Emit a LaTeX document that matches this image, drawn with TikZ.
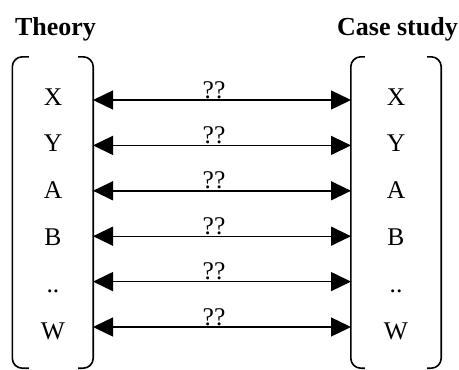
\documentclass[tikz,border=0pt]{standalone}
\usepackage{fontspec}
\setmainfont{Liberation Serif}
\usetikzlibrary{arrows.meta}
\begin{document}
\begin{tikzpicture}[x=1pt,y=-1pt,
  lbl/.style={font=\fontsize{25.5}{30}\selectfont, inner sep=0pt, anchor=base},
  ttl/.style={font=\fontsize{26}{30}\selectfont\bfseries, inner sep=0pt, anchor=base},
  brk/.style={line width=1.6pt, rounded corners=10pt},
  boxn/.style={draw=none, inner sep=0pt, minimum height=311pt},
  arr/.style={line width=1.4pt, {Triangle[length=20pt,width=19pt]}-{Triangle[length=20pt,width=19pt]}},
  ]
\useasboundingbox (0,0) rectangle (459,370);
\node[ttl] (t1) at (55.5,35) {Theory};
\node[ttl] (t2) at (397.5,35) {Case study};
\node[boxn, minimum width=80.5pt] (L) at (52.75,212.5) {};
\node[boxn, minimum width=90pt] (R) at (396,212.5) {};
\draw[brk] ([xshift=16.5pt]L.north west) -- (L.north west) -- (L.south west) -- ([xshift=16.5pt]L.south west);
\draw[brk] ([xshift=-15pt]L.north east) -- (L.north east) -- (L.south east) -- ([xshift=-15pt]L.south east);
\draw[brk] ([xshift=14pt]R.north west) -- (R.north west) -- (R.south west) -- ([xshift=14pt]R.south west);
\draw[brk] ([xshift=-14pt]R.north east) -- (R.north east) -- (R.south east) -- ([xshift=-14pt]R.south east);
\foreach \i/\t in {0/{X},1/{Y},2/{A},3/{B},4/{..},5/{W}}{
  \node[lbl] (l\i) at (53,105+46.8*\i) {\t};
  \node[lbl] (r\i) at (396,105+46.8*\i) {\t};
  \coordinate (al\i) at (93,100+45.4*\i);
  \coordinate (ar\i) at (351,100+45.4*\i);
  \draw[arr] (al\i) -- (ar\i);
  \node[lbl] (q\i) at (214,98+45.4*\i) {??};
}
\end{tikzpicture}
\end{document}
